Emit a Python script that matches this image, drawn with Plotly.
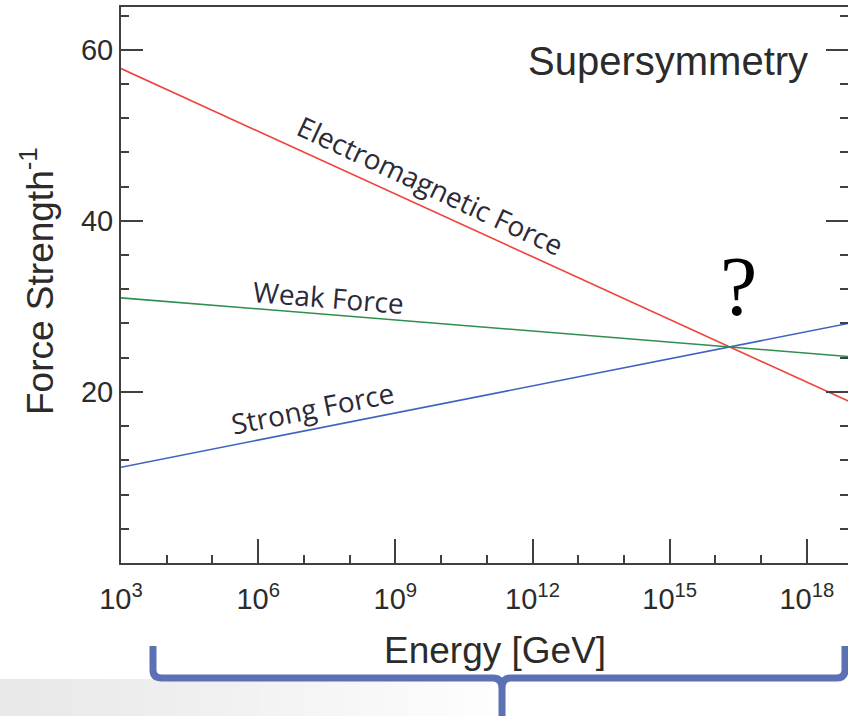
import plotly.graph_objects as go

# Inverse coupling strengths of the three forces versus energy (supersymmetric running)
energy_gev = [1e3, 2e16, 1e19]
em_inv = [57.8, 25.3, 18.7]
weak_inv = [31.0, 25.3, 24.1]
strong_inv = [11.2, 25.3, 28.1]

x_major_ticks = [1e3, 1e6, 1e9, 1e12, 1e15, 1e18]
x_major_text = ["10<sup>3</sup>", "10<sup>6</sup>", "10<sup>9</sup>",
                "10<sup>12</sup>", "10<sup>15</sup>", "10<sup>18</sup>"]
x_minor_ticks = [10.0 ** k for k in range(3, 20) if k % 3 != 0]
y_major_ticks = [20, 40, 60]

W, H = 848, 716
L, R, T, B = 121, 848, 7, 563


def px(x):
    return (x - L) / (R - L)


def py(y):
    return (B - y) / (B - T)


TXT = "#2b2b2b"
AX = "#404040"
sans = "Liberation Sans, Arial, sans-serif"
label_font = "Open Sans, Noto Sans, sans-serif"

fig = go.Figure()
fig.add_trace(go.Scatter(x=energy_gev, y=em_inv, mode="lines",
                         line=dict(color="#f0403c", width=1.6), showlegend=False))
fig.add_trace(go.Scatter(x=energy_gev, y=weak_inv, mode="lines",
                         line=dict(color="#2f8f4e", width=1.6), showlegend=False,
                         yaxis="y2"))
fig.add_trace(go.Scatter(x=energy_gev, y=strong_inv, mode="lines",
                         line=dict(color="#3f64c0", width=1.6), showlegend=False))

fig.update_layout(
    width=W, height=H,
    margin=dict(l=L, r=W - R, t=T, b=H - B),
    paper_bgcolor="white", plot_bgcolor="white",
    xaxis=dict(
        type="log", range=[3, 18.9],
        showgrid=False, zeroline=False,
        showline=True, linecolor=AX, linewidth=2, mirror=True,
        ticks="inside", ticklen=24, tickwidth=2, tickcolor=AX,
        tickvals=x_major_ticks, ticktext=x_major_text,
        tickfont=dict(family=sans, size=29, color=TXT),
        ticklabelstandoff=9,
        minor=dict(tickvals=x_minor_ticks, ticks="inside", ticklen=8,
                   tickwidth=2, tickcolor=AX, showgrid=False),
    ),
    yaxis=dict(
        range=[0, 65],
        showgrid=False, zeroline=False,
        showline=True, linecolor=AX, linewidth=2, mirror=False,
        ticks="inside", ticklen=22, tickwidth=2, tickcolor=AX,
        tickvals=y_major_ticks,
        tickfont=dict(family=sans, size=29, color=TXT),
        minor=dict(dtick=4, tick0=0, ticks="inside", ticklen=8,
                   tickwidth=2, tickcolor=AX, showgrid=False),
    ),
    yaxis2=dict(
        range=[0, 65], overlaying="y", side="right", matches="y",
        showgrid=False, zeroline=False, showline=False,
        ticks="inside", ticklen=22, tickwidth=2, tickcolor=AX,
        tickvals=y_major_ticks, showticklabels=False,
        minor=dict(dtick=4, tick0=0, ticks="inside", ticklen=8,
                   tickwidth=2, tickcolor=AX, showgrid=False),
    ),
)

# Soft grey band along the bottom edge, fading to white towards the right
steps = 48
band_end = 500
for i in range(steps):
    x0 = band_end * i / steps
    x1 = band_end * (i + 1) / steps + 1
    g = int(233 + (255 - 233) * (i / steps) ** 1.2)
    fig.add_shape(type="rect", xref="paper", yref="paper",
                  x0=px(x0), x1=px(x1), y0=py(716), y1=py(679),
                  fillcolor=f"rgb({g},{g},{g})", line=dict(width=0), layer="below")

# Curly brace spanning the energy range
brace = (
    f"M {px(153)},{py(646)} L {px(153)},{py(670)} "
    f"Q {px(153)},{py(678)} {px(162)},{py(678)} "
    f"L {px(493)},{py(678)} Q {px(502)},{py(678)} {px(502)},{py(688)} "
    f"L {px(502)},{py(716)} "
    f"M {px(502)},{py(688)} Q {px(502)},{py(678)} {px(511)},{py(678)} "
    f"L {px(836)},{py(678)} Q {px(845)},{py(678)} {px(845)},{py(670)} "
    f"L {px(845)},{py(646)}"
)
fig.add_shape(type="path", xref="paper", yref="paper", path=brace,
              line=dict(color="#5b71b3", width=7))

ann = []
ann.append(dict(text="Supersymmetry", x=px(668), y=py(61), xref="paper", yref="paper",
                showarrow=False, xanchor="center", yanchor="middle",
                font=dict(family=sans, size=40, color=TXT)))
ann.append(dict(text="Energy [GeV]", x=px(495), y=py(650), xref="paper", yref="paper",
                showarrow=False, xanchor="center", yanchor="middle",
                font=dict(family=sans, size=37, color=TXT)))
ann.append(dict(text="Force Strength<sup>-1</sup>", x=px(37), y=py(281),
                xref="paper", yref="paper", textangle=-90,
                showarrow=False, xanchor="center", yanchor="middle",
                font=dict(family=sans, size=37, color=TXT)))
ann.append(dict(text="Electromagnetic Force", x=px(430), y=py(185), xref="paper", yref="paper",
                showarrow=False, xanchor="center", yanchor="middle", textangle=25,
                font=dict(family=label_font, size=28, color="#2a2a38")))
ann.append(dict(text="Weak Force", x=px(328), y=py(297), xref="paper", yref="paper",
                showarrow=False, xanchor="center", yanchor="middle", textangle=4.6,
                font=dict(family=label_font, size=28, color="#2a2a38")))
ann.append(dict(text="Strong Force", x=px(312), y=py(408), xref="paper", yref="paper",
                showarrow=False, xanchor="center", yanchor="middle", textangle=-11.3,
                font=dict(family=label_font, size=28, color="#2a2a38")))
ann.append(dict(text="?", x=px(738), y=py(286), xref="paper", yref="paper",
                showarrow=False, xanchor="center", yanchor="middle",
                font=dict(family="Liberation Serif, Times New Roman, serif", size=84,
                          color="black")))
fig.update_layout(annotations=ann)

fig.write_html("out.html")
